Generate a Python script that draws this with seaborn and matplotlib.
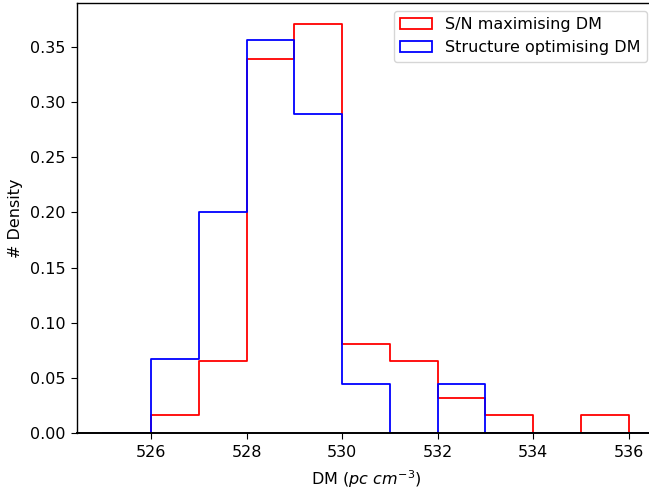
import numpy as np
import pandas as pd
import seaborn as sns
import matplotlib
matplotlib.use("Agg")
import matplotlib.pyplot as plt
from matplotlib.patches import Patch

# Bin edges (DM, pc cm^-3), width 1
bin_edges = [525, 526, 527, 528, 529, 530, 531, 532, 533, 534, 535, 536, 537]
# Density per bin
sn_density = [0.0, 0.016, 0.065, 0.339, 0.371, 0.081, 0.065, 0.032, 0.016, 0.0, 0.016, 0.0]
struct_density = [0.0, 0.067, 0.200, 0.356, 0.289, 0.044, 0.0, 0.044, 0.0, 0.0, 0.0, 0.0]
labels = ["S/N maximising DM", "Structure optimising DM"]
colors = ["red", "blue"]

centers = [(a + b) / 2 for a, b in zip(bin_edges[:-1], bin_edges[1:])]

plt.rcParams["font.family"] = ["DejaVu Sans"]
plt.rcParams["font.size"] = 11.5
plt.rcParams["xtick.major.pad"] = 4.5
plt.rcParams["ytick.major.pad"] = 4.5
plt.rcParams["xtick.major.size"] = 4
plt.rcParams["ytick.major.size"] = 4

fig = plt.figure(figsize=(6.49, 4.94), dpi=100)
ax = fig.add_axes([77 / 649, 61 / 494, (655 - 77) / 649, (433 - 3) / 494])

for dens, col in zip([sn_density, struct_density], colors):
    sns.histplot(x=centers, weights=dens, bins=bin_edges, stat="count",
                 element="step", fill=False, color=col, linewidth=1.3, ax=ax)
for ln in ax.lines:
    ln.set_zorder(1)

ax.set_xlim(524.45, 536.55)
ax.set_ylim(0, 0.3899)
ax.set_xticks([526, 528, 530, 532, 534, 536])
ax.set_xlabel(r"DM ($pc\ cm^{-3}$)", labelpad=6)
ax.set_ylabel("# Density", labelpad=5)
for name, s in ax.spines.items():
    s.set_linewidth(1.4 if name == "bottom" else 1.0)
    s.set_color("black")
    s.set_zorder(3)

handles = [Patch(facecolor="none", edgecolor=c, linewidth=1.3) for c in colors]
ax.legend(handles, labels, loc="upper right")

fig.savefig("out.png", dpi=100)
